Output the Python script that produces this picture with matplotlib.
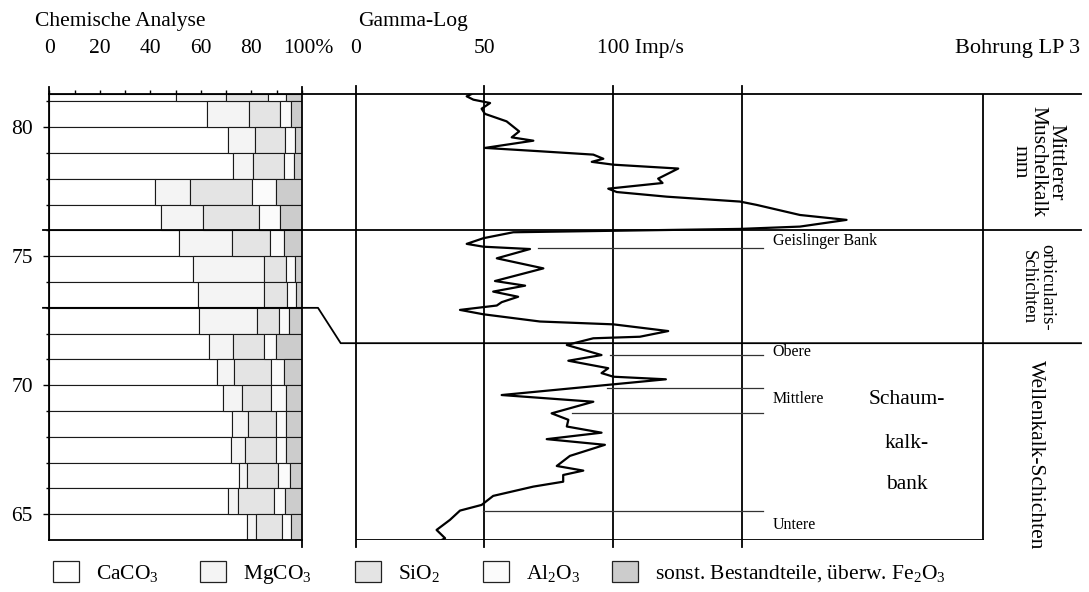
import numpy as np
import matplotlib
matplotlib.use('Agg')
import matplotlib.pyplot as plt
from matplotlib.patches import Patch
from matplotlib.lines import Line2D
from matplotlib.transforms import blended_transform_factory

plt.rcParams['font.family'] = ['Liberation Serif', 'DejaVu Serif']
plt.rcParams['mathtext.fontset'] = 'custom'
plt.rcParams['mathtext.rm'] = 'Liberation Serif'
plt.rcParams['mathtext.it'] = 'Liberation Serif:italic'

# chemische Analyse: Probenabschnitte (Teufe in m) und Anteile in %
depth_top = [81.3, 81, 80, 79, 78, 77, 76, 75, 74, 73, 72, 71, 70, 69, 68, 67, 66, 65]
depth_bot = [81, 80, 79, 78, 77, 76, 75, 74, 73, 72, 71, 70, 69, 68, 67, 66, 65, 64]
caco3 = [50.0, 62.5, 70.8, 72.6, 41.7, 44.3, 51.2, 56.9, 59.0, 59.4, 63.3, 66.5, 68.9, 72.2, 72.0, 75.1, 70.7, 78.2]
mgco3 = [20.0, 16.5, 10.7, 8.1, 14.1, 16.6, 21.2, 28.1, 26.1, 22.8, 9.3, 6.5, 7.2, 6.3, 5.3, 3.3, 4.1, 3.7]
sio2 = [16.7, 12.2, 11.9, 12.2, 24.4, 22.1, 14.9, 8.5, 8.8, 8.8, 12.5, 14.7, 11.8, 11.1, 12.5, 12.2, 14.1, 10.2]
al2o3 = [7.1, 4.4, 3.9, 4.1, 9.5, 8.3, 5.6, 3.6, 3.7, 3.7, 4.7, 5.3, 5.9, 3.9, 3.9, 4.5, 4.4, 3.7]
rest = [6.2, 4.4, 2.7, 3.0, 10.3, 8.7, 7.1, 2.9, 2.4, 5.3, 10.2, 7.0, 6.2, 6.5, 6.3, 4.9, 6.7, 4.2]

comp_labels = ['CaCO$_\\mathrm{3}$', 'MgCO$_\\mathrm{3}$', 'SiO$_\\mathrm{2}$',
               'Al$_\\mathrm{2}$O$_\\mathrm{3}$',
               'sonst. Bestandteile, überw. Fe$_\\mathrm{2}$O$_\\mathrm{3}$']
comp_colors = ['#ffffff', '#f4f4f4', '#e4e4e4', '#fbfbfb', '#cccccc']

# Gamma-Log (Imp/s gegen Teufe)
gamma_imp = [45.1, 43.2, 45.8, 52.3, 49.0, 50.3, 58.7, 63.6, 60.7, 69.1,
             50.3, 71.7, 92.4, 96.3, 91.8, 100.2, 125.4, 117.6, 119.3, 98.2,
             101.5, 120.9, 149.4, 155.9, 172.7, 190.8, 172.7, 149.4, 95.0, 61.3,
             49.7, 43.2, 49.7, 67.8, 54.9, 73.0, 54.2, 65.9, 53.5, 63.2,
             56.8, 54.9, 40.6, 49.7, 71.7, 100.2, 121.5, 110.5, 92.4, 82.1,
             95.6, 82.7, 98.2, 95.6, 100.2, 120.6, 56.8, 92.4, 76.2, 82.7,
             82.1, 95.6, 74.3, 96.9, 83.3, 78.2, 88.5, 80.7, 80.7, 69.1,
             53.5, 49.0, 40.6, 36.7, 31.5, 34.8, 33.5]
gamma_depth = [81.29, 81.20, 81.07, 80.94, 80.72, 80.52, 80.23, 79.84, 79.61, 79.48,
               79.20, 79.07, 78.94, 78.78, 78.66, 78.55, 78.40, 78.01, 77.84, 77.62,
               77.49, 77.31, 77.12, 76.99, 76.60, 76.41, 76.15, 76.06, 75.98, 75.93,
               75.70, 75.48, 75.37, 75.28, 74.92, 74.53, 74.04, 73.86, 73.63, 73.43,
               73.22, 73.09, 72.92, 72.75, 72.47, 72.36, 72.10, 71.88, 71.82, 71.56,
               71.17, 70.95, 70.66, 70.47, 70.33, 70.23, 69.62, 69.36, 68.91, 68.66,
               68.40, 68.16, 67.91, 67.69, 67.26, 66.87, 66.69, 66.52, 66.26, 66.07,
               65.71, 65.36, 65.14, 64.78, 64.39, 64.07, 64.00]

# markierte Baenke im Gamma-Log
bank_names = ['Geislinger Bank', 'Obere', 'Mittlere', 'Untere']
bank_label_depth = [75.59, 71.29, 69.45, 64.60]
marker_depth = [75.33, 71.16, 69.88, 68.94, 65.13]
marker_start = [70.8, 98.9, 97.6, 84.1, 49.5]

# Schichtgrenzen: Chemie-Spalte / Gamma-Spalte
top_boundary = 76.0
lower_boundary_chem = 73.0
lower_boundary_gamma = 71.63

W, H = 1089, 592
def fx(px):
    return px / W
def fy(py):
    return 1 - py / H

fig = plt.figure(figsize=(W / 100, H / 100), dpi=100)
ymin, ymax = 64, 81.29
ax_c = fig.add_axes([fx(49.3), fy(540), (302 - 49.3) / W, (540 - 94) / H])
ax_g = fig.add_axes([fx(355.5), fy(540), (1081 - 355.5) / W, (540 - 94) / H])
for ax in (ax_c, ax_g):
    ax.set_ylim(ymin, ymax)
    ax.patch.set_alpha(0)
    for s in ax.spines.values():
        s.set_visible(False)
ax_c.set_xlim(0, 100)
ax_g.set_xlim(0, 281.9)
ax_g.set_xticks([])
ax_g.set_yticks([])
lw_frame = 1.3

# --- chemische Analyse ---
left = np.zeros(len(caco3))
heights = np.array(depth_top) - np.array(depth_bot)
for vals, col in zip([caco3, mgco3, sio2, al2o3, rest], comp_colors):
    ax_c.barh(depth_bot, vals, left=left, height=heights, align='edge',
              color=col, edgecolor='#1a1a1a', linewidth=0.8)
    left = left + np.array(vals)

ax_c.spines['left'].set_visible(True)
ax_c.spines['bottom'].set_visible(True)
ax_c.spines['left'].set_linewidth(lw_frame)
ax_c.spines['bottom'].set_linewidth(lw_frame)
ax_c.axvline(0, ymin=1, ymax=1.016, color='k', lw=lw_frame, clip_on=False)
ax_c.axvline(100, ymin=-0.016, ymax=1.016, color='k', lw=lw_frame, clip_on=False)
ax_c.xaxis.set_ticks_position('top')
ax_c.set_xticks(range(0, 101, 10))
ax_c.set_xticklabels([])
ax_c.tick_params(axis='x', length=2.9, width=1)
ax_c.set_yticks([65, 70, 75, 80])
ax_c.set_yticks(range(65, 82), minor=True)
ax_c.tick_params(axis='y', which='major', length=4.3, width=1, pad=7.5, labelsize=15.5)
ax_c.tick_params(axis='y', which='minor', length=2.2, width=1)

tc = blended_transform_factory(ax_c.transData, fig.transFigure)
for v in range(0, 81, 20):
    fig.text(v, fy(53), str(v), transform=tc, ha='center', va='baseline', fontsize=15.5)
ax_c.annotate('100%', xy=(100, fy(53)), xycoords=tc, xytext=(-13.5, 0),
              textcoords='offset points', ha='left', va='baseline', fontsize=15.5)

# --- Gamma-Log ---
tg = blended_transform_factory(ax_g.transData, fig.transFigure)
for g in (0, 50, 100, 150):
    ax_g.plot([g, g], [63.73, 81.6], color='k', lw=lw_frame, clip_on=False)
fig.text(0, fy(53), '0', transform=tg, ha='center', va='baseline', fontsize=15.5)
fig.text(50, fy(53), '50', transform=tg, ha='center', va='baseline', fontsize=15.5)
ax_g.annotate('100 Imp/s', xy=(100, fy(53)), xycoords=tg, xytext=(-11.2, 0),
              textcoords='offset points', ha='left', va='baseline', fontsize=15.5)
fig.text(fx(1080), fy(53), 'Bohrung LP 3', ha='right', va='baseline', fontsize=16)

ax_g.plot([0, 243.9], [ymin, ymin], color='k', lw=lw_frame)
ax_g.plot([243.9, 243.9], [ymin, ymax], color='k', lw=lw_frame)
ax_g.plot(gamma_imp, gamma_depth, color='k', lw=1.6,
          solid_joinstyle='round', solid_capstyle='round')

for d, g0 in zip(marker_depth, marker_start):
    ax_g.plot([g0, 158.3], [d, d], color='#333333', lw=0.9)
for name, d in zip(bank_names, bank_label_depth):
    ax_g.text(162.1, d, name, ha='left', va='center', fontsize=11.5)
for txt, d in zip(['Schaum-', 'kalk-', 'bank'], [69.43, 67.75, 66.17]):
    ax_g.text(214.1, d, txt, ha='center', va='center', fontsize=15.5)

# Rahmenlinien ueber beide Spalten
tf = blended_transform_factory(fig.transFigure, ax_g.transData)
fig.add_artist(Line2D([fx(49.3), fx(1081)], [fy(94), fy(94)], color='k', lw=lw_frame))
fig.add_artist(Line2D([fx(43), fx(1081)], [top_boundary, top_boundary],
                      transform=tf, color='k', lw=lw_frame))
fig.add_artist(Line2D([fx(43), fx(318), fx(340.7), fx(1081)],
                      [lower_boundary_chem, lower_boundary_chem,
                       lower_boundary_gamma, lower_boundary_gamma],
                      transform=tf, color='k', lw=lw_frame))

# Stratigraphie
fig.text(fx(1038), 78.66, 'Mittlerer\nMuschelkalk\nmm', transform=tf, rotation=-90,
         ha='center', va='center', multialignment='center', fontsize=15.5, linespacing=0.95)
fig.text(fx(1037.5), 73.81, 'orbicularis-\nSchichten', transform=tf, rotation=-90,
         ha='center', va='center', multialignment='center', fontsize=13.5, linespacing=1.05)
fig.text(fx(1035), 67.30, 'Wellenkalk-Schichten', transform=tf, rotation=-90,
         ha='center', va='center', fontsize=15.5)

fig.text(fx(35), fy(26), 'Chemische Analyse', ha='left', va='baseline', fontsize=15.5)
fig.text(fx(358), fy(26), 'Gamma-Log', ha='left', va='baseline', fontsize=15.5)

# Legende: ein Eintrag je Komponente, wie im Original frei platziert
legend_x = [53, 200, 355, 483, 612]
for lx, col, lab in zip(legend_x, comp_colors, comp_labels):
    h = Patch(facecolor=col, edgecolor='#222222', linewidth=0.9)
    fig.legend([h], [lab], loc='upper left', bbox_to_anchor=(fx(lx), fy(561)),
               frameon=False, fontsize=15.5, handlelength=1.2, handleheight=1.15,
               handletextpad=0.8, borderpad=0, borderaxespad=0)

fig.savefig('out.png', dpi=100)
